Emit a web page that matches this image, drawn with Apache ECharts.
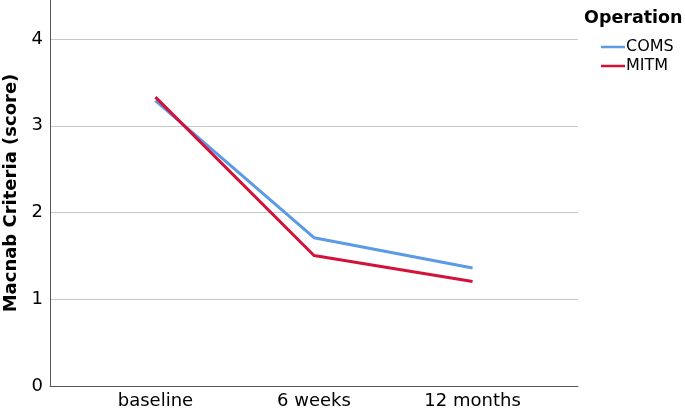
<!DOCTYPE html>
<html><head><meta charset="utf-8">
<script src="https://cdn.jsdelivr.net/npm/echarts@6/dist/echarts.min.js"></script>
<style>html,body{margin:0;padding:0;background:#fff}#c{width:685px;height:412px}</style>
</head><body><div id="c"></div>
<script>
const categories = ['baseline', '6 weeks', '12 months'];
const comsValues = [3.29, 1.71, 1.36];
const mitmValues = [3.33, 1.505, 1.205];
const yTicks = [0, 1, 2, 3, 4];
const seriesNames = ['COMS', 'MITM'];
const legendTitle = 'Operation';
const yTitle = 'Macnab Criteria (score)';

const FONT = 'DejaVu Sans';
const chart = echarts.init(document.getElementById('c'), null, {renderer: 'canvas'});
const toPairs = arr => arr.map((v, i) => [i, v]);
chart.setOption({
  animation: false,
  textStyle: {fontFamily: FONT},
  title: {text: legendTitle, left: 579, top: 4, textStyle: {fontFamily: FONT, fontWeight: 'bold', fontSize: 17.5, color: '#000'}},
  legend: {
    orient: 'vertical', left: 596, top: 34, itemGap: 3, itemWidth: 24, itemHeight: 10,
    icon: 'path://M0,4 L24,4 L24,6.5 L0,6.5 Z',
    textStyle: {fontFamily: FONT, fontSize: 16, color: '#000', padding: [0, 0, 0, -4]},
    data: seriesNames
  },
  grid: {left: 50, right: 107, top: 0, bottom: 26, containLabel: false, outerBoundsMode: 'none'},
  xAxis: {
    type: 'value', min: -0.665, max: 2.665,
    axisLine: {show: true, lineStyle: {color: '#555', width: 1}},
    axisTick: {show: false},
    splitLine: {show: false},
    axisLabel: {
      customValues: [0, 1, 2],
      formatter: v => categories[Math.round(v)],
      fontFamily: FONT, fontSize: 18, color: '#000', margin: 6
    }
  },
  yAxis: {
    type: 'value', min: 0, max: 4.45, interval: 1,
    name: yTitle, nameLocation: 'middle', nameGap: 29,
    nameTextStyle: {fontFamily: FONT, fontWeight: 'bold', fontSize: 18, color: '#000'},
    axisLine: {show: true, onZero: false, lineStyle: {color: '#555', width: 1}},
    axisTick: {show: false},
    splitLine: {show: true, showMaxLine: false, showMinLine: false, lineStyle: {color: '#c8c8c8', width: 1}},
    axisLabel: {
      customValues: yTicks,
      fontFamily: FONT, fontSize: 18, color: '#000', margin: 7
    }
  },
  series: [
    {name: seriesNames[0], type: 'line', data: toPairs(comsValues), symbol: 'none',
     lineStyle: {color: '#5a9ae6', width: 3}, itemStyle: {color: '#5a9ae6'}},
    {name: seriesNames[1], type: 'line', data: toPairs(mitmValues), symbol: 'none',
     lineStyle: {color: '#d3123a', width: 3}, itemStyle: {color: '#d3123a'}}
  ]
});
</script></body></html>
